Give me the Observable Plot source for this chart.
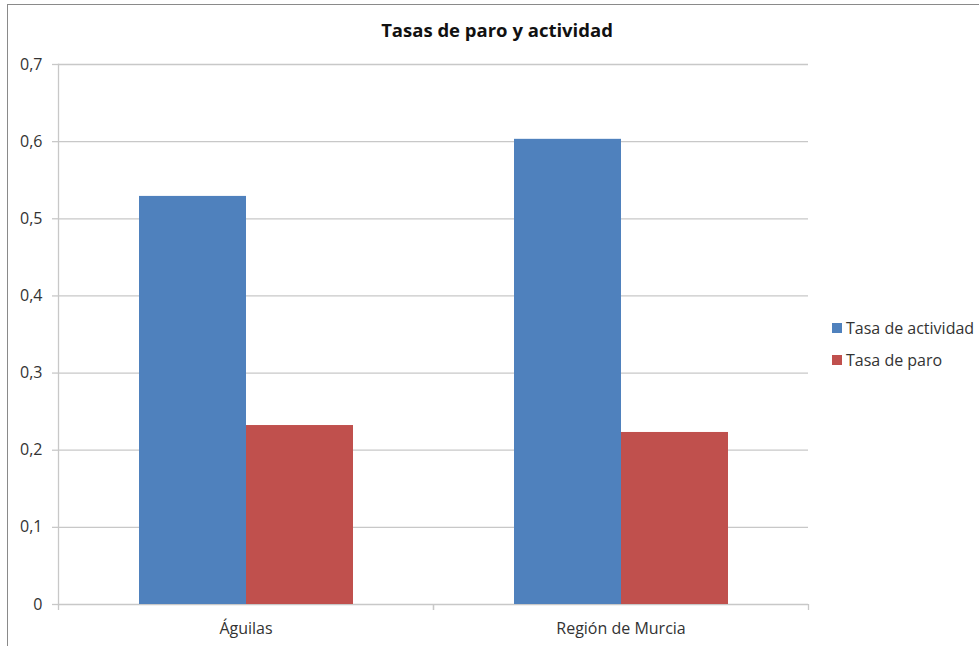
<!DOCTYPE html>
<html><head><meta charset="utf-8">
<script src="https://cdn.jsdelivr.net/npm/d3@7"></script>
<script src="https://cdn.jsdelivr.net/npm/@observablehq/plot@0.6"></script>
<style>
body{margin:0;background:#fff;}
#wrap{position:relative;width:979px;height:646px;overflow:hidden;font-family:"Open Sans",Lato,sans-serif;color:#333;}
#border{position:absolute;left:7px;top:4px;width:2000px;height:2000px;border-left:1.5px solid #8a8a8a;border-top:1.5px solid #8a8a8a;}
#chart{position:absolute;left:0;top:0;}
#title{position:absolute;top:17px;left:0;width:994px;text-align:center;font-weight:bold;font-size:18.5px;color:#111;}
#legend{position:absolute;left:832px;top:317px;font-size:16px;}
#legend div{display:flex;align-items:center;height:22px;margin-bottom:10px;}
#legend span.sw{display:inline-block;width:10px;height:10px;margin-right:4px;}
</style>
</head><body>
<div id="wrap">
  <div id="border"></div>
  <div id="chart"></div>
  <div id="title"></div>
  <div id="legend"></div>
</div>
<script>
const categories = ["Águilas", "Región de Murcia"];
const series = ["Tasa de actividad", "Tasa de paro"];
const actividad = [0.529, 0.603];
const paro = [0.232, 0.223];
const yTicks = [0, 0.1, 0.2, 0.3, 0.4, 0.5, 0.6, 0.7];
const colors = ["#4F81BD", "#C0504D"];
const titleText = "Tasas de paro y actividad";

const table = [];
categories.forEach((c, i) => {
  table.push({cat: c, series: series[0], value: actividad[i]});
  table.push({cat: c, series: series[1], value: paro[i]});
});

const W = 979, H = 646, mL = 58, mR = 171, mT = 64, mB = 42;
const half = (W - mL - mR) / (2 * categories.length);
const gridColor = "#c8c8c8";

const chart = Plot.plot({
  width: W, height: H,
  marginLeft: mL, marginRight: mR, marginTop: mT, marginBottom: mB,
  style: {fontFamily: '"Open Sans", Lato, sans-serif', fontSize: "16px", color: "#333", background: "transparent", overflow: "visible"},
  fx: {domain: categories, padding: 0, label: null, axis: null},
  x: {domain: series, paddingInner: 0, paddingOuter: 0.752, axis: null},
  y: {domain: [0, 0.7], axis: null},
  color: {domain: series, range: colors},
  marks: [
    Plot.gridY(yTicks, {stroke: gridColor, strokeOpacity: 1, strokeWidth: 1.3}),
    Plot.barY(table, {fx: "cat", x: "series", y: "value", fill: "series"}),
    Plot.frame({anchor: "left", facetAnchor: "left", stroke: gridColor, strokeWidth: 1.3}),
    Plot.axisY({ticks: yTicks, tickSize: 6, tickPadding: 10, stroke: gridColor, strokeWidth: 1.3, strokeOpacity: 1,
      tickFormat: d => d === 0 ? "0" : String(d).replace(".", ","), label: null}),
    Plot.axisFx({anchor: "bottom", tickSize: 0, tickPadding: 18, label: null}),
    Plot.axisFx({anchor: "bottom", tickSize: 6, tickFormat: () => "", dx: -half, label: null, stroke: gridColor, strokeWidth: 1.3, strokeOpacity: 1}),
    Plot.axisFx({anchor: "bottom", tickSize: 6, tickFormat: () => "", dx: half, label: null, stroke: gridColor, strokeWidth: 1.3, strokeOpacity: 1})
  ]
});
document.getElementById("chart").appendChild(chart);
document.getElementById("title").textContent = titleText;

const legend = document.getElementById("legend");
series.forEach((s, i) => {
  const row = document.createElement("div");
  const sw = document.createElement("span");
  sw.className = "sw";
  sw.style.background = colors[i];
  row.appendChild(sw);
  row.appendChild(document.createTextNode(s));
  legend.appendChild(row);
});
</script>
</body></html>
